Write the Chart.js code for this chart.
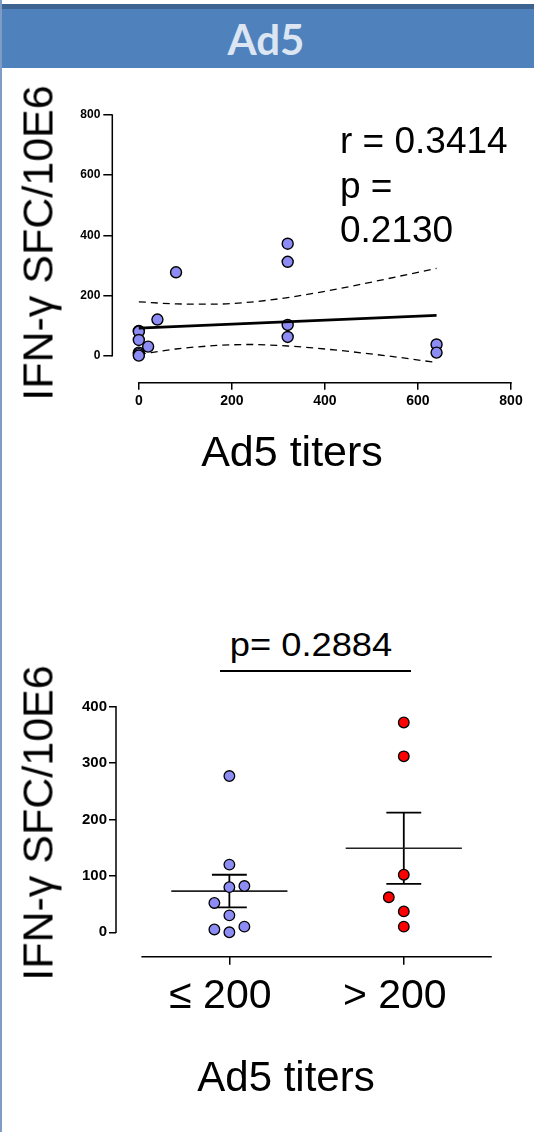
<!DOCTYPE html>
<html>
<head>
<meta charset="utf-8">
<script src="https://cdn.jsdelivr.net/npm/chart.js@4.4.0/dist/chart.umd.min.js"></script>
<style>
  html, body { margin: 0; padding: 0; background: #fff; }
  body { width: 534px; height: 1132px; position: relative; overflow: hidden;
         font-family: Arial, "Liberation Sans", sans-serif; color: #000; }
  .abs { position: absolute; white-space: nowrap; line-height: 1; }
  .ytitle { font-size: 43px; transform: translate(-50%, -50%) rotate(-90deg); }
  canvas { position: absolute; left: 0; }
</style>
</head>
<body>
<div class="abs" style="left:0;top:4px;width:534px;height:5px;background:#3D6391"></div>
<div class="abs" style="left:0;top:9px;width:534px;height:59px;background:#4F81BD"></div>
<div class="abs" style="left:0;top:0;width:2px;height:1132px;background:#7F9CC6"></div>
<div class="abs" style="left:266px;top:18px;transform:translateX(-50%);font-family:Lato,sans-serif;font-weight:bold;font-size:42px;color:#DCE6F2">Ad5</div>

<canvas id="scatterChart" width="534" height="400" style="top:70px"></canvas>
<div class="abs ytitle" style="left:38px;top:243px">IFN-γ SFC/10E6</div>
<div class="abs" style="left:340px;top:119px;font-size:37px;line-height:44.6px">r = 0.3414<br>p =<br>0.2130</div>
<div class="abs" style="left:292px;top:430px;transform:translateX(-50%);font-size:43px">Ad5 titers</div>

<div class="abs" style="left:311px;top:628px;transform:translateX(-50%) scaleX(1.1);font-size:33px">p= 0.2884</div>
<div class="abs" style="left:220px;top:670px;width:191px;height:2px;background:#000"></div>
<canvas id="groupChart" width="534" height="442" style="top:690px"></canvas>
<div class="abs ytitle" style="left:38px;top:823px">IFN-γ SFC/10E6</div>
<div class="abs" style="left:286px;top:1056px;transform:translateX(-50%);font-size:42px">Ad5 titers</div>

<script>
// correlation: Ad5 titer vs IFN-γ spots
const titers   = [0, 0, 0, 0, 0, 0, 20, 40, 80, 320, 320, 320, 320, 640, 640];
const ifnSpots = [82, 80, 52, 10, 5, 0, 30, 120, 277, 372, 312, 102, 62, 37, 10];
const fitX = [0, 640];
const fitY = [91.5, 133.9];
const bandX     = [0, 80, 160, 240, 320, 400, 480, 560, 640];
const bandUpper = [179, 172, 171, 178, 193, 214, 238, 264, 290];
const bandLower = [4, 22, 33, 37, 32, 22, 9, -6, -23];
const scatterXTicks = [0, 200, 400, 600, 800];
const scatterYTicks = [0, 200, 400, 600, 800];

// grouped by titer
const groups = ['≤ 200', '> 200'];
const titerCutoff = 200;
const groupMeans = [73, 149];
const groupSems = [29, 63];
const groupYTicks = [0, 100, 200, 300, 400];

const lowGroup = ifnSpots.filter((v, i) => titers[i] <= titerCutoff);
const highGroup = ifnSpots.filter((v, i) => titers[i] > titerCutoff);

const BLUE = '#8C8CF4';
const RED = '#FF0000';
const jitterStep = 0.086;

// draws the offset (Prism style) axis lines from the scales
const axisLines = {
  id: 'axisLines',
  beforeDatasetsDraw(chart, args, opts) {
    const { ctx, chartArea, scales: { x, y } } = chart;
    ctx.save();
    ctx.strokeStyle = '#000';
    ctx.lineWidth = 1.5;
    ctx.beginPath();
    ctx.moveTo(chartArea.left, y.getPixelForValue(opts.yFrom) + 0.75);
    ctx.lineTo(chartArea.left, y.getPixelForValue(opts.yTo) - 0.75);
    ctx.moveTo(x.getPixelForValue(opts.xFrom) - 0.75, chartArea.bottom);
    ctx.lineTo(x.getPixelForValue(opts.xTo) + 0.75, chartArea.bottom);
    ctx.stroke();
    ctx.restore();
  }
};

function xy(xs, ys) {
  return xs.map((v, i) => ({ x: v, y: ys[i] }));
}

// simple beeswarm: spread dots that would overlap
function swarm(values, slot) {
  const placed = [];
  let side = -1;
  return values.slice().sort((a, b) => a - b).map(v => {
    const free = k => placed.every(p => p.k !== k || Math.abs(p.v - v) >= 26);
    let k = 0;
    if (!free(0)) {
      k = free(side) ? side : -side;
      side = -side;
    }
    placed.push({ k: k, v: v });
    return { x: slot + k * jitterStep, y: v };
  });
}

function meanSegments() {
  const out = [];
  groupMeans.forEach((m, i) => {
    out.push({ x: i - 0.333, y: m }, { x: i + 0.333, y: m }, { x: i + 0.4, y: null });
  });
  return out;
}

function semSegments() {
  const out = [];
  groupMeans.forEach((m, i) => {
    const hi = m + groupSems[i], lo = m - groupSems[i], w = 0.1;
    out.push({ x: i - w, y: hi }, { x: i + w, y: hi }, { x: i, y: null });
    out.push({ x: i, y: hi }, { x: i, y: lo }, { x: i, y: null });
    out.push({ x: i - w, y: lo }, { x: i + w, y: lo }, { x: i + w, y: null });
  });
  return out;
}

const tickFont = (size, weight) => ({ family: 'Arial, "Liberation Sans", sans-serif', size: size, weight: weight });

new Chart(document.getElementById('scatterChart'), {
  type: 'scatter',
  data: {
    datasets: [
      { label: 'fit', type: 'line', data: xy(fitX, fitY), borderColor: '#000', borderWidth: 2.6,
        pointRadius: 0, order: 0 },
      { label: 'upper 95%', type: 'line', data: xy(bandX, bandUpper), borderColor: '#000', borderWidth: 1.3,
        borderDash: [7, 5], pointRadius: 0, cubicInterpolationMode: 'monotone', order: 2 },
      { label: 'lower 95%', type: 'line', data: xy(bandX, bandLower), borderColor: '#000', borderWidth: 1.3,
        borderDash: [7, 5], pointRadius: 0, cubicInterpolationMode: 'monotone', order: 2 },
      { label: 'donors', data: xy(titers, ifnSpots), backgroundColor: BLUE, borderColor: '#000',
        borderWidth: 1.4, pointRadius: 5.5, order: 1 }
    ]
  },
  options: {
    responsive: false,
    animation: false,
    devicePixelRatio: 1,
    layout: { padding: { left: 0, right: 23, top: 45, bottom: 47.3 } },
    plugins: {
      legend: { display: false },
      tooltip: { enabled: false },
      axisLines: { xFrom: 0, xTo: 800, yFrom: 0, yTo: 800 }
    },
    scales: {
      x: {
        type: 'linear', min: -57, max: 800,
        afterBuildTicks: s => { s.ticks = scatterXTicks.map(v => ({ value: v })); },
        afterFit: s => { s.height = 40; },
        border: { display: false },
        grid: { drawOnChartArea: false, color: '#000', lineWidth: 1.5, tickLength: 7 },
        ticks: { color: '#000', font: tickFont(14, 'bold'), padding: 3, maxRotation: 0 }
      },
      y: {
        type: 'linear', min: -90, max: 800,
        afterBuildTicks: s => { s.ticks = scatterYTicks.map(v => ({ value: v })); },
        afterFit: s => { s.width = 112.3; },
        border: { display: false },
        grid: { drawOnChartArea: false, color: '#000', lineWidth: 1.5, tickLength: 9 },
        ticks: { color: '#000', font: tickFont(12, 'bold'), padding: 3 }
      }
    }
  },
  plugins: [axisLines]
});

new Chart(document.getElementById('groupChart'), {
  type: 'scatter',
  data: {
    datasets: [
      { label: groups[0], data: swarm(lowGroup, 0), backgroundColor: BLUE, borderColor: '#000',
        borderWidth: 1.3, pointRadius: 5.3, order: 0 },
      { label: groups[1], data: swarm(highGroup, 1), backgroundColor: RED, borderColor: '#000',
        borderWidth: 1.3, pointRadius: 5.3, order: 0 },
      { label: 'mean', type: 'line', data: meanSegments(), borderColor: '#222', borderWidth: 1.6,
        pointRadius: 0, spanGaps: false, order: 1 },
      { label: 'sem', type: 'line', data: semSegments(), borderColor: '#000', borderWidth: 1.8,
        pointRadius: 0, spanGaps: false, order: 1 }
    ]
  },
  options: {
    responsive: false,
    animation: false,
    devicePixelRatio: 1,
    layout: { padding: { left: 0, right: 43, top: 16.7, bottom: 115.3 } },
    plugins: {
      legend: { display: false },
      tooltip: { enabled: false },
      axisLines: { xFrom: -0.5, xTo: 1.5, yFrom: 0, yTo: 400 }
    },
    scales: {
      x: {
        type: 'linear', min: -0.65, max: 1.5,
        afterBuildTicks: s => { s.ticks = groups.map((g, i) => ({ value: i })); },
        afterFit: s => { s.height = 60; },
        border: { display: false },
        grid: { drawOnChartArea: false, color: '#000', lineWidth: 1.5, tickLength: 8 },
        ticks: { color: '#000', font: tickFont(41, 'normal'), padding: 7, labelOffset: -9,
                 autoSkip: false, maxRotation: 0, callback: v => groups[v] }
      },
      y: {
        type: 'linear', min: -43.3, max: 400,
        afterBuildTicks: s => { s.ticks = groupYTicks.map(v => ({ value: v })); },
        afterFit: s => { s.width = 116; },
        border: { display: false },
        grid: { drawOnChartArea: false, color: '#000', lineWidth: 1.5, tickLength: 7 },
        ticks: { color: '#000', font: tickFont(15, 'bold'), padding: 2 }
      }
    }
  },
  plugins: [axisLines]
});
</script>
</body>
</html>
